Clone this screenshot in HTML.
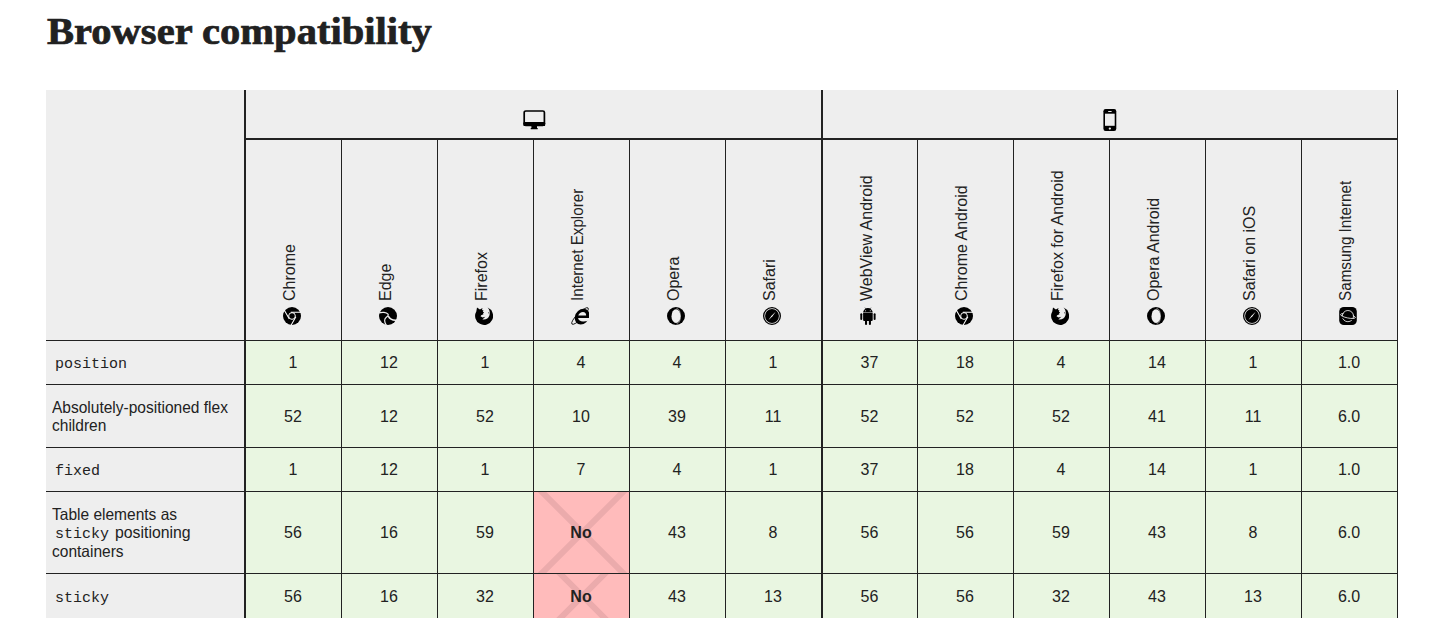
<!DOCTYPE html>
<html><head><meta charset="utf-8"><style>
html,body{margin:0;padding:0;background:#fff;width:1441px;height:641px;overflow:hidden}
body{position:relative;font-family:"Liberation Sans", sans-serif;color:#222}
body>div{position:absolute}
</style></head><body>
<div style="left:46px;top:90px;width:1351px;height:250px;background:#eeeeee"></div><div style="left:46px;top:341px;width:198px;height:277px;background:#eeeeee"></div><div style="left:246px;top:341px;width:1151px;height:277px;background:#e9f6e1"></div><div style="left:534px;top:492px;width:95px;height:81px;overflow:hidden"><svg width="95" height="81" style="position:absolute;left:0;top:0"><rect width="95" height="81" fill="#ffbbbb"/><path d="M-151.5 -159.5 L248.5 240.5 M-151.5 240.5 L248.5 -159.5" stroke="#ebabac" stroke-width="6"/></svg></div><div style="left:534px;top:574px;width:95px;height:44px;overflow:hidden"><svg width="95" height="44" style="position:absolute;left:0;top:0"><rect width="95" height="44" fill="#ffbbbb"/><path d="M-151.5 -178.0 L248.5 222.0 M-151.5 222.0 L248.5 -178.0" stroke="#ebabac" stroke-width="6"/></svg></div><div style="left:244px;top:90px;width:2px;height:528px;background:#222"></div><div style="left:821px;top:90px;width:2px;height:528px;background:#222"></div><div style="left:246px;top:138px;width:1152px;height:2px;background:#222"></div><div style="left:1397px;top:90px;width:1px;height:528px;background:#222"></div><div style="left:341px;top:140px;width:1px;height:478px;background:#222"></div><div style="left:437px;top:140px;width:1px;height:478px;background:#222"></div><div style="left:533px;top:140px;width:1px;height:478px;background:#222"></div><div style="left:629px;top:140px;width:1px;height:478px;background:#222"></div><div style="left:725px;top:140px;width:1px;height:478px;background:#222"></div><div style="left:917px;top:140px;width:1px;height:478px;background:#222"></div><div style="left:1013px;top:140px;width:1px;height:478px;background:#222"></div><div style="left:1109px;top:140px;width:1px;height:478px;background:#222"></div><div style="left:1205px;top:140px;width:1px;height:478px;background:#222"></div><div style="left:1301px;top:140px;width:1px;height:478px;background:#222"></div><div style="left:46px;top:340px;width:1352px;height:1px;background:#222"></div><div style="left:46px;top:384px;width:1352px;height:1px;background:#222"></div><div style="left:46px;top:447px;width:1352px;height:1px;background:#222"></div><div style="left:46px;top:491px;width:1352px;height:1px;background:#222"></div><div style="left:46px;top:573px;width:1352px;height:1px;background:#222"></div><div style="left:47.3px;top:9.3px;font:bold 38px 'Liberation Serif', serif;color:#212121;-webkit-text-stroke:0.7px #212121;white-space:nowrap;transform-origin:0 0;transform:scaleX(1.067)">Browser compatibility</div><div style="left:245.5px;top:352.96px;width:95px;height:20px;line-height:20px;text-align:center;font-size:16px;">1</div><div style="left:341.5px;top:352.96px;width:95px;height:20px;line-height:20px;text-align:center;font-size:16px;">12</div><div style="left:437.5px;top:352.96px;width:95px;height:20px;line-height:20px;text-align:center;font-size:16px;">1</div><div style="left:533.5px;top:352.96px;width:95px;height:20px;line-height:20px;text-align:center;font-size:16px;">4</div><div style="left:629.5px;top:352.96px;width:95px;height:20px;line-height:20px;text-align:center;font-size:16px;">4</div><div style="left:725.5px;top:352.96px;width:95px;height:20px;line-height:20px;text-align:center;font-size:16px;">1</div><div style="left:822.5px;top:352.96px;width:94px;height:20px;line-height:20px;text-align:center;font-size:16px;">37</div><div style="left:917.5px;top:352.96px;width:95px;height:20px;line-height:20px;text-align:center;font-size:16px;">18</div><div style="left:1013.5px;top:352.96px;width:95px;height:20px;line-height:20px;text-align:center;font-size:16px;">4</div><div style="left:1109.5px;top:352.96px;width:95px;height:20px;line-height:20px;text-align:center;font-size:16px;">14</div><div style="left:1205.5px;top:352.96px;width:95px;height:20px;line-height:20px;text-align:center;font-size:16px;">1</div><div style="left:1301.5px;top:352.96px;width:95px;height:20px;line-height:20px;text-align:center;font-size:16px;">1.0</div><div style="left:245.5px;top:407.46px;width:95px;height:20px;line-height:20px;text-align:center;font-size:16px;">52</div><div style="left:341.5px;top:407.46px;width:95px;height:20px;line-height:20px;text-align:center;font-size:16px;">12</div><div style="left:437.5px;top:407.46px;width:95px;height:20px;line-height:20px;text-align:center;font-size:16px;">52</div><div style="left:533.5px;top:407.46px;width:95px;height:20px;line-height:20px;text-align:center;font-size:16px;">10</div><div style="left:629.5px;top:407.46px;width:95px;height:20px;line-height:20px;text-align:center;font-size:16px;">39</div><div style="left:725.5px;top:407.46px;width:95px;height:20px;line-height:20px;text-align:center;font-size:16px;">11</div><div style="left:822.5px;top:407.46px;width:94px;height:20px;line-height:20px;text-align:center;font-size:16px;">52</div><div style="left:917.5px;top:407.46px;width:95px;height:20px;line-height:20px;text-align:center;font-size:16px;">52</div><div style="left:1013.5px;top:407.46px;width:95px;height:20px;line-height:20px;text-align:center;font-size:16px;">52</div><div style="left:1109.5px;top:407.46px;width:95px;height:20px;line-height:20px;text-align:center;font-size:16px;">41</div><div style="left:1205.5px;top:407.46px;width:95px;height:20px;line-height:20px;text-align:center;font-size:16px;">11</div><div style="left:1301.5px;top:407.46px;width:95px;height:20px;line-height:20px;text-align:center;font-size:16px;">6.0</div><div style="left:245.5px;top:459.96px;width:95px;height:20px;line-height:20px;text-align:center;font-size:16px;">1</div><div style="left:341.5px;top:459.96px;width:95px;height:20px;line-height:20px;text-align:center;font-size:16px;">12</div><div style="left:437.5px;top:459.96px;width:95px;height:20px;line-height:20px;text-align:center;font-size:16px;">1</div><div style="left:533.5px;top:459.96px;width:95px;height:20px;line-height:20px;text-align:center;font-size:16px;">7</div><div style="left:629.5px;top:459.96px;width:95px;height:20px;line-height:20px;text-align:center;font-size:16px;">4</div><div style="left:725.5px;top:459.96px;width:95px;height:20px;line-height:20px;text-align:center;font-size:16px;">1</div><div style="left:822.5px;top:459.96px;width:94px;height:20px;line-height:20px;text-align:center;font-size:16px;">37</div><div style="left:917.5px;top:459.96px;width:95px;height:20px;line-height:20px;text-align:center;font-size:16px;">18</div><div style="left:1013.5px;top:459.96px;width:95px;height:20px;line-height:20px;text-align:center;font-size:16px;">4</div><div style="left:1109.5px;top:459.96px;width:95px;height:20px;line-height:20px;text-align:center;font-size:16px;">14</div><div style="left:1205.5px;top:459.96px;width:95px;height:20px;line-height:20px;text-align:center;font-size:16px;">1</div><div style="left:1301.5px;top:459.96px;width:95px;height:20px;line-height:20px;text-align:center;font-size:16px;">1.0</div><div style="left:245.5px;top:522.96px;width:95px;height:20px;line-height:20px;text-align:center;font-size:16px;">56</div><div style="left:341.5px;top:522.96px;width:95px;height:20px;line-height:20px;text-align:center;font-size:16px;">16</div><div style="left:437.5px;top:522.96px;width:95px;height:20px;line-height:20px;text-align:center;font-size:16px;">59</div><div style="left:533.5px;top:522.96px;width:95px;height:20px;line-height:20px;text-align:center;font-size:16px;font-weight:bold;">No</div><div style="left:629.5px;top:522.96px;width:95px;height:20px;line-height:20px;text-align:center;font-size:16px;">43</div><div style="left:725.5px;top:522.96px;width:95px;height:20px;line-height:20px;text-align:center;font-size:16px;">8</div><div style="left:822.5px;top:522.96px;width:94px;height:20px;line-height:20px;text-align:center;font-size:16px;">56</div><div style="left:917.5px;top:522.96px;width:95px;height:20px;line-height:20px;text-align:center;font-size:16px;">56</div><div style="left:1013.5px;top:522.96px;width:95px;height:20px;line-height:20px;text-align:center;font-size:16px;">59</div><div style="left:1109.5px;top:522.96px;width:95px;height:20px;line-height:20px;text-align:center;font-size:16px;">43</div><div style="left:1205.5px;top:522.96px;width:95px;height:20px;line-height:20px;text-align:center;font-size:16px;">8</div><div style="left:1301.5px;top:522.96px;width:95px;height:20px;line-height:20px;text-align:center;font-size:16px;">6.0</div><div style="left:245.5px;top:587.46px;width:95px;height:20px;line-height:20px;text-align:center;font-size:16px;">56</div><div style="left:341.5px;top:587.46px;width:95px;height:20px;line-height:20px;text-align:center;font-size:16px;">16</div><div style="left:437.5px;top:587.46px;width:95px;height:20px;line-height:20px;text-align:center;font-size:16px;">32</div><div style="left:533.5px;top:587.46px;width:95px;height:20px;line-height:20px;text-align:center;font-size:16px;font-weight:bold;">No</div><div style="left:629.5px;top:587.46px;width:95px;height:20px;line-height:20px;text-align:center;font-size:16px;">43</div><div style="left:725.5px;top:587.46px;width:95px;height:20px;line-height:20px;text-align:center;font-size:16px;">13</div><div style="left:822.5px;top:587.46px;width:94px;height:20px;line-height:20px;text-align:center;font-size:16px;">56</div><div style="left:917.5px;top:587.46px;width:95px;height:20px;line-height:20px;text-align:center;font-size:16px;">56</div><div style="left:1013.5px;top:587.46px;width:95px;height:20px;line-height:20px;text-align:center;font-size:16px;">32</div><div style="left:1109.5px;top:587.46px;width:95px;height:20px;line-height:20px;text-align:center;font-size:16px;">43</div><div style="left:1205.5px;top:587.46px;width:95px;height:20px;line-height:20px;text-align:center;font-size:16px;">13</div><div style="left:1301.5px;top:587.46px;width:95px;height:20px;line-height:20px;text-align:center;font-size:16px;">6.0</div><div style="left:55.00px;top:355.00px;height:20px;line-height:20px;white-space:nowrap;font-family:'Liberation Mono', monospace;font-size:15px">position</div><div style="left:52.00px;top:396.78px;height:20px;line-height:20px;white-space:nowrap;font-size:16.5px;transform-origin:0 0;transform:scaleX(0.9400)">Absolutely-positioned flex</div><div style="left:52.00px;top:414.78px;height:20px;line-height:20px;white-space:nowrap;font-size:16.5px;transform-origin:0 0;transform:scaleX(0.9400)">children</div><div style="left:55.00px;top:462.00px;height:20px;line-height:20px;white-space:nowrap;font-family:'Liberation Mono', monospace;font-size:15px">fixed</div><div style="left:52.00px;top:503.53px;height:20px;line-height:20px;white-space:nowrap;font-size:16.5px;transform-origin:0 0;transform:scaleX(0.9400)">Table elements as</div><div style="left:55.00px;top:524.50px;height:20px;line-height:20px;white-space:nowrap;font-family:'Liberation Mono', monospace;font-size:15px">sticky</div><div style="left:115.00px;top:522.28px;height:20px;line-height:20px;white-space:nowrap;font-size:16.5px;transform-origin:0 0;transform:scaleX(0.9588)">positioning</div><div style="left:52.00px;top:540.78px;height:20px;line-height:20px;white-space:nowrap;font-size:16.5px;transform-origin:0 0;transform:scaleX(0.9400)">containers</div><div style="left:55.00px;top:589.00px;height:20px;line-height:20px;white-space:nowrap;font-family:'Liberation Mono', monospace;font-size:15px">sticky</div><div style="left:280.40px;top:301px;transform-origin:0 0;transform:rotate(-90deg) scaleX(1.0000);white-space:nowrap;font-size:16px;line-height:20px;height:20px">Chrome</div><div style="left:376.40px;top:301px;transform-origin:0 0;transform:rotate(-90deg) scaleX(1.0000);white-space:nowrap;font-size:16px;line-height:20px;height:20px">Edge</div><div style="left:472.40px;top:301px;transform-origin:0 0;transform:rotate(-90deg) scaleX(1.0000);white-space:nowrap;font-size:16px;line-height:20px;height:20px">Firefox</div><div style="left:568.40px;top:301px;transform-origin:0 0;transform:rotate(-90deg) scaleX(0.9487);white-space:nowrap;font-size:16px;line-height:20px;height:20px">Internet Explorer</div><div style="left:664.40px;top:301px;transform-origin:0 0;transform:rotate(-90deg) scaleX(1.0000);white-space:nowrap;font-size:16px;line-height:20px;height:20px">Opera</div><div style="left:760.40px;top:301px;transform-origin:0 0;transform:rotate(-90deg) scaleX(1.0000);white-space:nowrap;font-size:16px;line-height:20px;height:20px">Safari</div><div style="left:857.40px;top:301px;transform-origin:0 0;transform:rotate(-90deg) scaleX(1.0000);white-space:nowrap;font-size:16px;line-height:20px;height:20px">WebView Android</div><div style="left:952.40px;top:301px;transform-origin:0 0;transform:rotate(-90deg) scaleX(1.0000);white-space:nowrap;font-size:16px;line-height:20px;height:20px">Chrome Android</div><div style="left:1048.40px;top:301px;transform-origin:0 0;transform:rotate(-90deg) scaleX(1.0000);white-space:nowrap;font-size:16px;line-height:20px;height:20px">Firefox for Android</div><div style="left:1144.40px;top:301px;transform-origin:0 0;transform:rotate(-90deg) scaleX(1.0000);white-space:nowrap;font-size:16px;line-height:20px;height:20px">Opera Android</div><div style="left:1240.40px;top:301px;transform-origin:0 0;transform:rotate(-90deg) scaleX(1.0000);white-space:nowrap;font-size:16px;line-height:20px;height:20px">Safari on iOS</div><div style="left:1336.40px;top:301px;transform-origin:0 0;transform:rotate(-90deg) scaleX(0.9520);white-space:nowrap;font-size:16px;line-height:20px;height:20px">Samsung Internet</div><div style="left:283.20px;top:306.8px;width:18px;height:18px"><svg width="18" height="18" viewBox="0 0 18 18" style="display:block"><circle cx="9" cy="9" r="9" fill="#000"/><circle cx="9" cy="9" r="3.35" fill="none" stroke="#fff" stroke-width="0.95"/><path d="M7.80 5.20L18.00 5.20M12.89 9.86L7.79 18.69M6.31 11.94L1.21 3.11" stroke="#fff" stroke-width="1.05" fill="none"/></svg></div><div style="left:379.20px;top:306.8px;width:18px;height:18px"><svg width="18" height="18" viewBox="0 0 18 18" style="display:block"><circle cx="9" cy="9" r="9" fill="#000"/><path d="M-0.2 5.9C3 4.9 7.4 5.1 9.0 7.2C9.9 8.5 8.6 9.4 7.3 10.3C5.5 11.7 5.1 14.7 7.3 18.2" stroke="#eee" stroke-width="1.15" fill="none"/><path d="M9.3 9.1C10.5 11.7 13.4 13.4 17.8 13.1" stroke="#eee" stroke-width="1.5" fill="none"/></svg></div><div style="left:475.20px;top:306.8px;width:18px;height:18px"><svg width="18" height="18" viewBox="0 0 18 18" style="display:block"><path d="M2.0 0.5L4.9 2.5L7.5 1.1L7.0 3.0L8.5 3.4L7.8 4.8L9.1 5.4L8.0 6.4L8.5 7.3L6.2 8.2L5.5 9.3L7.6 10.5L10.3 9.7L7.4 12.5C10.8 13.1 13.4 11.4 14.4 8.6C15.2 5.8 14.7 2.6 12.6 0.6A9 9 0 1 1 1.3 4.4Z" fill="#000"/><path d="M13.0 5.6L14.2 6.9L13.8 5.2Z" fill="#000"/></svg></div><div style="left:571.20px;top:306.8px;width:18px;height:18px"><svg width="18" height="18" viewBox="0 0 18 18" style="display:block"><ellipse cx="9.0" cy="9.0" rx="11.4" ry="3.0" transform="rotate(-45 9 9)" fill="none" stroke="#000" stroke-width="0.85"/><g transform="translate(3.4 0) skewX(-10)"><ellipse cx="9.4" cy="9.6" rx="7.2" ry="7.9" fill="#000"/><path d="M5.4 8.5C5.6 6.3 7.4 4.9 9.4 4.9C11.4 4.9 13.0 6.3 13.2 8.5Z" fill="#eee"/><path d="M5.6 11.0L17 11.0L17 13.0C15.6 14.4 13.4 14.6 11.2 14.5C8.4 14.3 6.4 13.2 5.6 11.0Z" fill="#eee"/></g></svg></div><div style="left:667.20px;top:306.8px;width:18px;height:18px"><svg width="18" height="18" viewBox="0 0 18 18" style="display:block"><circle cx="9" cy="9" r="9" fill="#000"/><ellipse cx="9" cy="9.2" rx="4.5" ry="6.9" fill="#eee"/><path d="M9.4 1.3C12.3 1.9 13.5 5.4 13.5 9.2C13.5 13 12.3 16.5 9.4 17.1" fill="none" stroke="#eee" stroke-width="0.5"/></svg></div><div style="left:763.20px;top:306.8px;width:18px;height:18px"><svg width="18" height="18" viewBox="0 0 18 18" style="display:block"><circle cx="9" cy="9" r="8.35" fill="none" stroke="#000" stroke-width="1.3"/><circle cx="9" cy="9" r="6.95" fill="#000"/><path d="M5.3 13.3L8.5 8.8L12.7 4.7L9.5 9.2Z" fill="#fff"/></svg></div><div style="left:859.00px;top:306.8px;width:18px;height:18px"><svg width="18" height="18" viewBox="0 0 18 18" style="display:block"><path d="M4.1 5.5A4.8 4.4 0 0 1 13.7 5.5Z" fill="#000"/><path d="M5.9 0.6L6.9 2.1M12.0 0.6L11.0 2.1" stroke="#000" stroke-width="0.5"/><circle cx="6.6" cy="3.8" r="0.55" fill="#eee"/><circle cx="11.3" cy="3.8" r="0.55" fill="#eee"/><path d="M4.1 6.1H13.7V12.9A1.1 1.1 0 0 1 12.6 14H5.2A1.1 1.1 0 0 1 4.1 12.9Z" fill="#000"/><rect x="1.3" y="6.2" width="1.95" height="6.8" rx="0.98" fill="#000"/><rect x="14.65" y="6.2" width="1.95" height="6.8" rx="0.98" fill="#000"/><rect x="6.0" y="12.5" width="2.05" height="5.5" rx="1" fill="#000"/><rect x="9.9" y="12.5" width="2.05" height="5.5" rx="1" fill="#000"/></svg></div><div style="left:955.20px;top:306.8px;width:18px;height:18px"><svg width="18" height="18" viewBox="0 0 18 18" style="display:block"><circle cx="9" cy="9" r="9" fill="#000"/><circle cx="9" cy="9" r="3.35" fill="none" stroke="#fff" stroke-width="0.95"/><path d="M7.80 5.20L18.00 5.20M12.89 9.86L7.79 18.69M6.31 11.94L1.21 3.11" stroke="#fff" stroke-width="1.05" fill="none"/></svg></div><div style="left:1051.20px;top:306.8px;width:18px;height:18px"><svg width="18" height="18" viewBox="0 0 18 18" style="display:block"><path d="M2.0 0.5L4.9 2.5L7.5 1.1L7.0 3.0L8.5 3.4L7.8 4.8L9.1 5.4L8.0 6.4L8.5 7.3L6.2 8.2L5.5 9.3L7.6 10.5L10.3 9.7L7.4 12.5C10.8 13.1 13.4 11.4 14.4 8.6C15.2 5.8 14.7 2.6 12.6 0.6A9 9 0 1 1 1.3 4.4Z" fill="#000"/><path d="M13.0 5.6L14.2 6.9L13.8 5.2Z" fill="#000"/></svg></div><div style="left:1147.20px;top:306.8px;width:18px;height:18px"><svg width="18" height="18" viewBox="0 0 18 18" style="display:block"><circle cx="9" cy="9" r="9" fill="#000"/><ellipse cx="9" cy="9.2" rx="4.5" ry="6.9" fill="#eee"/><path d="M9.4 1.3C12.3 1.9 13.5 5.4 13.5 9.2C13.5 13 12.3 16.5 9.4 17.1" fill="none" stroke="#eee" stroke-width="0.5"/></svg></div><div style="left:1243.20px;top:306.8px;width:18px;height:18px"><svg width="18" height="18" viewBox="0 0 18 18" style="display:block"><circle cx="9" cy="9" r="8.35" fill="none" stroke="#000" stroke-width="1.3"/><circle cx="9" cy="9" r="6.95" fill="#000"/><path d="M5.3 13.3L8.5 8.8L12.7 4.7L9.5 9.2Z" fill="#fff"/></svg></div><div style="left:1339.20px;top:306.8px;width:18px;height:18px"><svg width="18" height="18" viewBox="0 0 18 18" style="display:block"><rect x="0.2" y="0" width="17.6" height="18" rx="4.6" fill="#000"/><ellipse cx="8.90" cy="9.10" rx="7.60" ry="1.90" transform="rotate(12 8.90 9.10)" fill="none" stroke="#fff" stroke-width="0.8"/><circle cx="8.90" cy="9.10" r="5.2" fill="#000"/><circle cx="8.90" cy="9.10" r="5.6" fill="none" stroke="#fff" stroke-width="0.8"/><path d="M1.47 7.52A7.60 2.80 12 0 0 16.33 10.68" fill="none" stroke="#000" stroke-width="1.6"/><path d="M1.47 7.52A7.60 1.90 12 0 0 16.33 10.68" fill="none" stroke="#fff" stroke-width="0.8"/></svg></div><div style="left:523px;top:110px;width:24px;height:22px"><svg width="24" height="22" viewBox="0 0 24 22" style="display:block"><rect x="1.2" y="1.0" width="20.2" height="14.4" rx="1.6" fill="none" stroke="#000" stroke-width="1.7"/><rect x="0.4" y="12.1" width="21.8" height="4.0" rx="1.2" fill="#000"/><rect x="8.4" y="15.8" width="5.6" height="2.6" fill="#000"/><rect x="7.6" y="18" width="7.2" height="1.3" rx="0.5" fill="#000"/></svg></div><div style="left:1103px;top:109px;width:16px;height:24px"><svg width="16" height="24" viewBox="0 0 16 24" style="display:block"><rect x="0.4" y="0" width="12.9" height="22" rx="2.2" fill="#000"/><rect x="2" y="4.7" width="9.7" height="12.1" fill="#eee"/><rect x="5" y="2" width="3.8" height="0.9" rx="0.45" fill="#eee"/><circle cx="6.85" cy="19.6" r="1.15" fill="#eee"/></svg></div>
</body></html>
